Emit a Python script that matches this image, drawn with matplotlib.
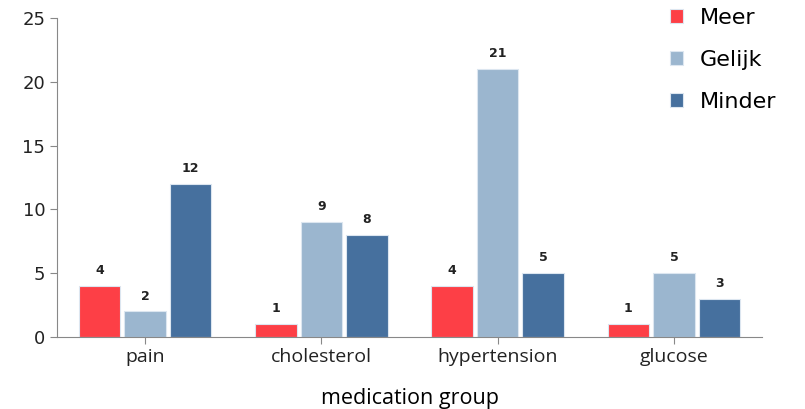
import matplotlib.pyplot as plt
import numpy as np

groups = ['pain', 'cholesterol', 'hypertension', 'glucose']
series = ['Meer', 'Gelijk', 'Minder']
meer = [4, 1, 4, 1]
gelijk = [2, 9, 21, 5]
minder = [12, 8, 5, 3]
colors = ['#fd3f46', '#9bb6cf', '#46709e']

fig = plt.figure(figsize=(8.05, 4.09), dpi=100)
ax = fig.add_axes([57 / 805, 1 - 337 / 409, 705 / 805, 319 / 409])

x = np.arange(len(groups))
offsets = [-0.258, 0, 0.258]
for vals, off, col, name in zip([meer, gelijk, minder], offsets, colors, series):
    bars = ax.bar(x + off, vals, width=0.235, color=col, edgecolor='#dce6f0',
                  linewidth=0.8, label=name)
    for b, v in zip(bars, vals):
        ax.text(b.get_x() + b.get_width() / 2, v + 0.7, str(v), ha='center',
                va='bottom', fontsize=9, family='DejaVu Sans', fontweight='bold',
                color='#222222')

ax.set_xlim(-0.5, 3.5)
ax.set_ylim(0, 25)
ax.set_yticks([0, 5, 10, 15, 20, 25])
ax.set_xticks(x)
ax.set_xticklabels(groups, fontsize=14, family='Open Sans')
for lab in ax.get_yticklabels():
    lab.set_family('DejaVu Sans')
    lab.set_fontsize(13)
ax.set_xlabel('medication group', fontsize=15.5, family='Open Sans', labelpad=16)

for s in ['top', 'right']:
    ax.spines[s].set_visible(False)
for s in ['left', 'bottom']:
    ax.spines[s].set_color('#888888')
ax.tick_params(color='#888888', length=5, labelcolor='#222222')
ax.tick_params(axis='x', pad=3)

leg = fig.legend(loc='upper left', bbox_to_anchor=(670 / 805, 1 - 8 / 409),
                 frameon=False, borderpad=0, borderaxespad=0,
                 prop={'family': 'DejaVu Sans', 'size': 16}, handlelength=0.6,
                 handleheight=0.6, handletextpad=0.75, labelspacing=0.98)

fig.savefig('out.png', dpi=100)
